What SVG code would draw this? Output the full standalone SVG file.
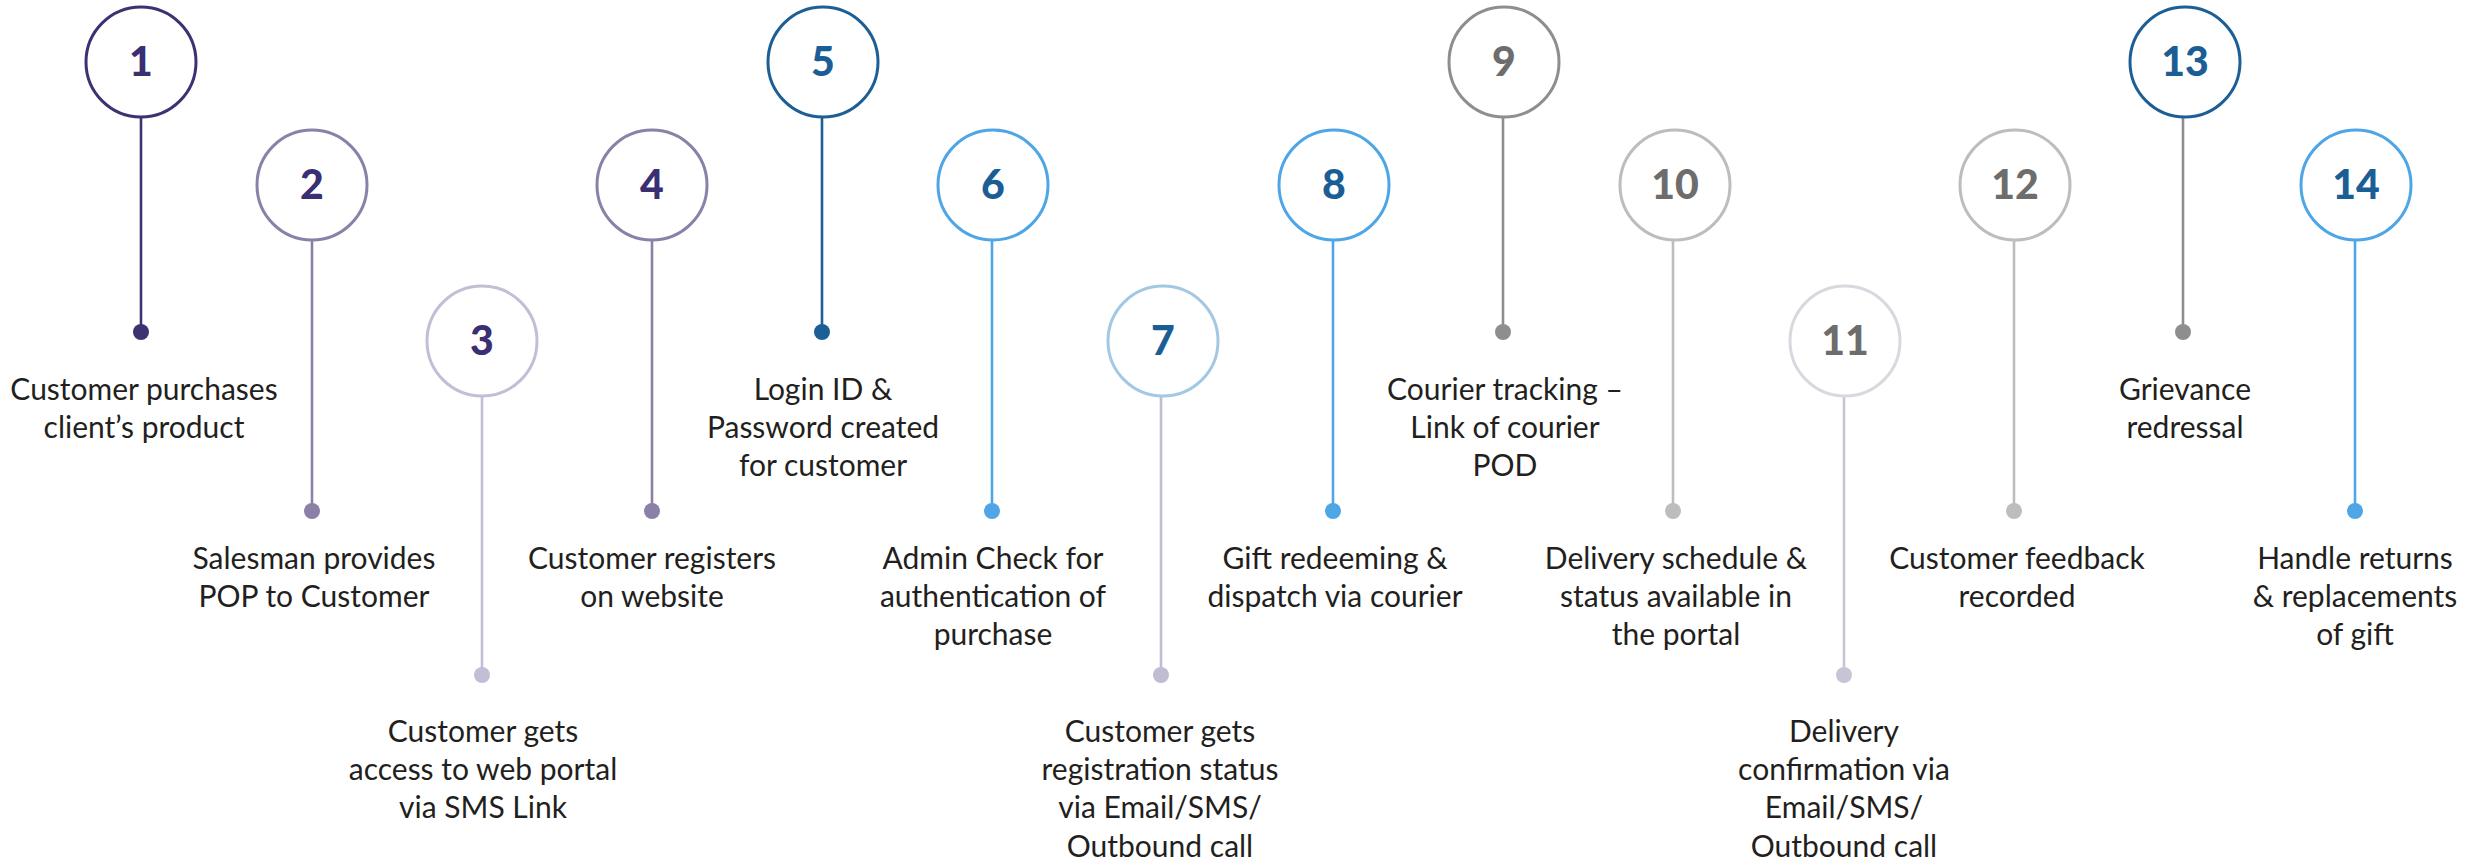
<svg xmlns="http://www.w3.org/2000/svg" width="2476" height="861" viewBox="0 0 2476 861">
<style>
.ring{fill:#fff;stroke-width:3}
.stem{stroke-width:2.6;fill:none}
.num{font-family:Lato,"Open Sans",sans-serif;font-weight:900;font-size:41px;text-anchor:middle}
.lbl{font-family:Lato,"Open Sans",sans-serif;font-size:30px;fill:#231f20;text-anchor:middle}
.np{fill:#3a2f72}.nb{fill:#1b5e96}.ng{fill:#6d6d6d}
</style>
<rect width="2476" height="861" fill="#fff"/>
<g id="connectors">
<line class="stem" x1="141" y1="117" x2="141" y2="332" stroke="#3c3272"/>
<line class="stem" x1="312" y1="240" x2="312" y2="511" stroke="#8b80a8"/>
<line class="stem" x1="482" y1="396" x2="482" y2="675" stroke="#c3bdd6"/>
<line class="stem" x1="652" y1="240" x2="652" y2="511" stroke="#8b80a8"/>
<line class="stem" x1="822" y1="117" x2="822" y2="332" stroke="#1c5f96"/>
<line class="stem" x1="992" y1="240" x2="992" y2="511" stroke="#4ea6e6"/>
<line class="stem" x1="1161" y1="396" x2="1161" y2="675" stroke="#c2bcd2"/>
<line class="stem" x1="1333" y1="240" x2="1333" y2="511" stroke="#4ea6e6"/>
<line class="stem" x1="1503" y1="117" x2="1503" y2="332" stroke="#8e8e8e"/>
<line class="stem" x1="1673" y1="240" x2="1673" y2="511" stroke="#bdbdbd"/>
<line class="stem" x1="1844" y1="396" x2="1844" y2="675" stroke="#c8c4d6"/>
<line class="stem" x1="2014" y1="240" x2="2014" y2="511" stroke="#bdbdbd"/>
<line class="stem" x1="2183" y1="117" x2="2183" y2="332" stroke="#8e8e8e"/>
<line class="stem" x1="2355" y1="240" x2="2355" y2="511" stroke="#4ea6e6"/>
</g>
<g id="n1"><circle class="ring" cx="141" cy="62" r="55" stroke="#3c3272"/><text class="num np" x="141" y="76">1</text><circle cx="141" cy="332" r="8" fill="#3c3272"/><text class="lbl" x="144" y="400">Customer purchases</text><text class="lbl" x="144" y="438">client’s product</text></g>
<g id="n2"><circle class="ring" cx="312" cy="185" r="55" stroke="#8b80a8"/><text class="num np" x="312" y="199">2</text><circle cx="312" cy="511" r="8" fill="#8b80a8"/><text class="lbl" x="314" y="569">Salesman provides</text><text class="lbl" x="314" y="607">POP to Customer</text></g>
<g id="n3"><circle class="ring" cx="482" cy="341" r="55" stroke="#c3bdd6"/><text class="num np" x="482" y="355">3</text><circle cx="482" cy="675" r="8" fill="#c3bdd6"/><text class="lbl" x="483" y="742">Customer gets</text><text class="lbl" x="483" y="780">access to web portal</text><text class="lbl" x="483" y="818">via SMS Link</text></g>
<g id="n4"><circle class="ring" cx="652" cy="185" r="55" stroke="#8b80a8"/><text class="num np" x="652" y="199">4</text><circle cx="652" cy="511" r="8" fill="#8b80a8"/><text class="lbl" x="652" y="569">Customer registers</text><text class="lbl" x="652" y="607">on website</text></g>
<g id="n5"><circle class="ring" cx="823" cy="62" r="55" stroke="#1c5f96"/><text class="num nb" x="823" y="76">5</text><circle cx="822" cy="332" r="8" fill="#1c5f96"/><text class="lbl" x="823" y="400">Login ID &amp;</text><text class="lbl" x="823" y="438">Password created</text><text class="lbl" x="823" y="476">for customer</text></g>
<g id="n6"><circle class="ring" cx="993" cy="185" r="55" stroke="#4ea6e6"/><text class="num nb" x="993" y="199">6</text><circle cx="992" cy="511" r="8" fill="#4ea6e6"/><text class="lbl" x="993" y="569">Admin Check for</text><text class="lbl" x="993" y="607">authentication of</text><text class="lbl" x="993" y="645">purchase</text></g>
<g id="n7"><circle class="ring" cx="1163" cy="341" r="55" stroke="#a3c8e3"/><text class="num nb" x="1163" y="355">7</text><circle cx="1161" cy="675" r="8" fill="#c2bcd2"/><text class="lbl" x="1160" y="742">Customer gets</text><text class="lbl" x="1160" y="780">registration status</text><text class="lbl" x="1160" y="818">via Email/SMS/</text><text class="lbl" x="1160" y="857">Outbound call</text></g>
<g id="n8"><circle class="ring" cx="1334" cy="185" r="55" stroke="#4ea6e6"/><text class="num nb" x="1334" y="199">8</text><circle cx="1333" cy="511" r="8" fill="#4ea6e6"/><text class="lbl" x="1335" y="569">Gift redeeming &amp;</text><text class="lbl" x="1335" y="607">dispatch via courier</text></g>
<g id="n9"><circle class="ring" cx="1504" cy="62" r="55" stroke="#8e8e8e"/><text class="num ng" x="1504" y="76">9</text><circle cx="1503" cy="332" r="8" fill="#8e8e8e"/><text class="lbl" x="1505" y="400">Courier tracking –</text><text class="lbl" x="1505" y="438">Link of courier</text><text class="lbl" x="1505" y="476">POD</text></g>
<g id="n10"><circle class="ring" cx="1675" cy="185" r="55" stroke="#bdbdbd"/><text class="num ng" x="1675" y="199">10</text><circle cx="1673" cy="511" r="8" fill="#bdbdbd"/><text class="lbl" x="1676" y="569">Delivery schedule &amp;</text><text class="lbl" x="1676" y="607">status available in</text><text class="lbl" x="1676" y="645">the portal</text></g>
<g id="n11"><circle class="ring" cx="1845" cy="341" r="55" stroke="#d6d9de"/><text class="num ng" x="1845" y="355">11</text><circle cx="1844" cy="675" r="8" fill="#c8c4d6"/><text class="lbl" x="1844" y="742">Delivery</text><text class="lbl" x="1844" y="780">confirmation via</text><text class="lbl" x="1844" y="818">Email/SMS/</text><text class="lbl" x="1844" y="857">Outbound call</text></g>
<g id="n12"><circle class="ring" cx="2015" cy="185" r="55" stroke="#bdbdbd"/><text class="num ng" x="2015" y="199">12</text><circle cx="2014" cy="511" r="8" fill="#bdbdbd"/><text class="lbl" x="2017" y="569">Customer feedback</text><text class="lbl" x="2017" y="607">recorded</text></g>
<g id="n13"><circle class="ring" cx="2185" cy="62" r="55" stroke="#1c5f96"/><text class="num nb" x="2185" y="76">13</text><circle cx="2183" cy="332" r="8" fill="#8e8e8e"/><text class="lbl" x="2185" y="400">Grievance</text><text class="lbl" x="2185" y="438">redressal</text></g>
<g id="n14"><circle class="ring" cx="2356" cy="185" r="55" stroke="#4ea6e6"/><text class="num nb" x="2356" y="199">14</text><circle cx="2355" cy="511" r="8" fill="#4ea6e6"/><text class="lbl" x="2355" y="569">Handle returns</text><text class="lbl" x="2355" y="607">&amp; replacements</text><text class="lbl" x="2355" y="645">of gift</text></g>
</svg>
